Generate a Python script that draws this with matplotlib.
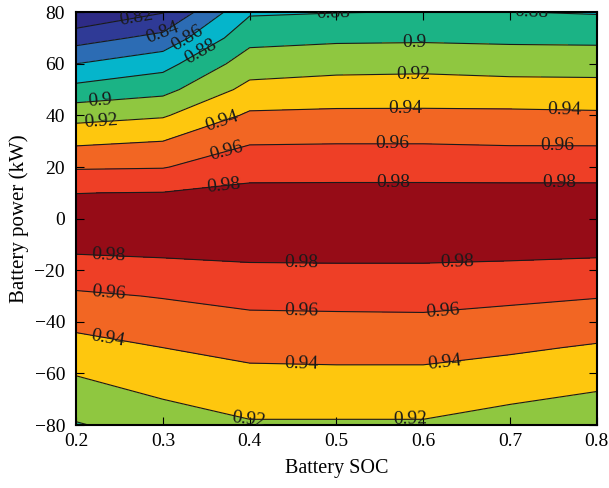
import numpy as np
import matplotlib
matplotlib.use("Agg")
import matplotlib.pyplot as plt
from matplotlib.colors import ListedColormap, BoundaryNorm

plt.rcParams['font.family'] = ['Liberation Serif', 'DejaVu Serif']

# battery state of charge (columns) and power (rows, kW)
soc = [0.2, 0.3, 0.4, 0.5, 0.6, 0.7, 0.8]
power = [-80, -70, -60, -50, -40, -30, -20, -10, 0, 10, 20, 30, 40, 50, 60, 70, 80]

# efficiency table, one row per power value
eff = [
    [0.8985, 0.909, 0.918, 0.918, 0.918, 0.912, 0.906],
    [0.910, 0.920, 0.927, 0.927, 0.927, 0.922, 0.917],
    [0.921, 0.930, 0.936, 0.937, 0.937, 0.932, 0.927],
    [0.933, 0.940, 0.946, 0.946, 0.946, 0.943, 0.938],
    [0.945, 0.951, 0.955, 0.956, 0.956, 0.953, 0.950],
    [0.957, 0.961, 0.966, 0.966, 0.967, 0.964, 0.961],
    [0.971, 0.974, 0.977, 0.977, 0.977, 0.976, 0.974],
    [0.9855, 0.9865, 0.987, 0.988, 0.988, 0.987, 0.9864],
    [0.986, 0.987, 0.988, 0.989, 0.989, 0.988, 0.988],
    [0.9798, 0.9805, 0.985, 0.985, 0.985, 0.985, 0.985],
    [0.958, 0.959, 0.972, 0.9725, 0.9725, 0.972, 0.972],
    [0.936, 0.940, 0.958, 0.9586, 0.9586, 0.9575, 0.9574],
    [0.913, 0.918, 0.943, 0.944, 0.944, 0.944, 0.943],
    [0.8865, 0.894, 0.926, 0.929, 0.9295, 0.928, 0.9275],
    [0.860, 0.873, 0.910, 0.913, 0.914, 0.912, 0.9115],
    [0.8315, 0.846, 0.894, 0.8965, 0.897, 0.896, 0.8955],
    [0.801, 0.819, 0.8775, 0.8795, 0.8805, 0.8805, 0.8785],
]

levels = [0.78, 0.82, 0.84, 0.86, 0.88, 0.90, 0.92, 0.94, 0.96, 0.98, 1.0]
line_levels = [0.82, 0.84, 0.86, 0.88, 0.90, 0.92, 0.94, 0.96, 0.98]
colors = ['#2e2b86', '#2f3a96', '#2c6cb4', '#05b5cb', '#1bb385',
          '#8fc740', '#fec70e', '#f26623', '#ee3f26', '#960c17']

# where the labels sit
label_pos = [
    (0.270, 75.5), (0.300, 71.8), (0.331, 68.0), (0.346, 63.0),
    (0.228, 45.0), (0.229, 37.0), (0.369, 37.0), (0.373, 26.5), (0.370, 13.5),
    (0.496, 79.5), (0.696, 79.5), (0.590, 68.3), (0.589, 56.3),
    (0.579, 43.0), (0.763, 42.0), (0.564, 28.5), (0.754, 28.5),
    (0.565, 14.5), (0.757, 14.5),
    (0.237, -14.5), (0.459, -17.5), (0.639, -17.3),
    (0.237, -30.0), (0.459, -35.5), (0.623, -35.6),
    (0.237, -46.0), (0.459, -56.0), (0.625, -55.5),
    (0.399, -77.5), (0.585, -78.0),
]

X, Y = np.meshgrid(soc, power)
Z = np.array(eff)

fig = plt.figure(figsize=(6.09, 4.88), dpi=100)
ax = fig.add_axes([0.125, 0.129, 0.855, 0.846])

cmap = ListedColormap(colors)
norm = BoundaryNorm(levels, cmap.N)
ax.contourf(X, Y, Z, levels=levels, cmap=cmap, norm=norm)
cs = ax.contour(X, Y, Z, levels=line_levels, colors='#1a1a1a', linewidths=0.8)
ax.clabel(cs, inline=False, fontsize=14, colors='#1a1a1a', fmt=lambda v: f'{v:g}',
          manual=label_pos)

ax.set_xlim(0.2, 0.8)
ax.set_ylim(-80, 80)
ax.set_xticks([0.2, 0.3, 0.4, 0.5, 0.6, 0.7, 0.8])
ax.set_yticks([-80, -60, -40, -20, 0, 20, 40, 60, 80])
ax.set_yticklabels(['\u221280', '\u221260', '\u221240', '\u221220', '0', '20', '40', '60', '80'])
ax.tick_params(direction='in', top=True, right=True, labelsize=14, length=6, width=0.8)
ax.tick_params(axis='x', pad=6)
ax.tick_params(axis='y', pad=8)
for s in ax.spines.values():
    s.set_linewidth(1.5)
ax.set_xlabel('Battery SOC', fontsize=14.5, labelpad=6)
ax.set_ylabel('Battery power (kW)', fontsize=15, labelpad=4)

fig.savefig('out.png', dpi=100)
